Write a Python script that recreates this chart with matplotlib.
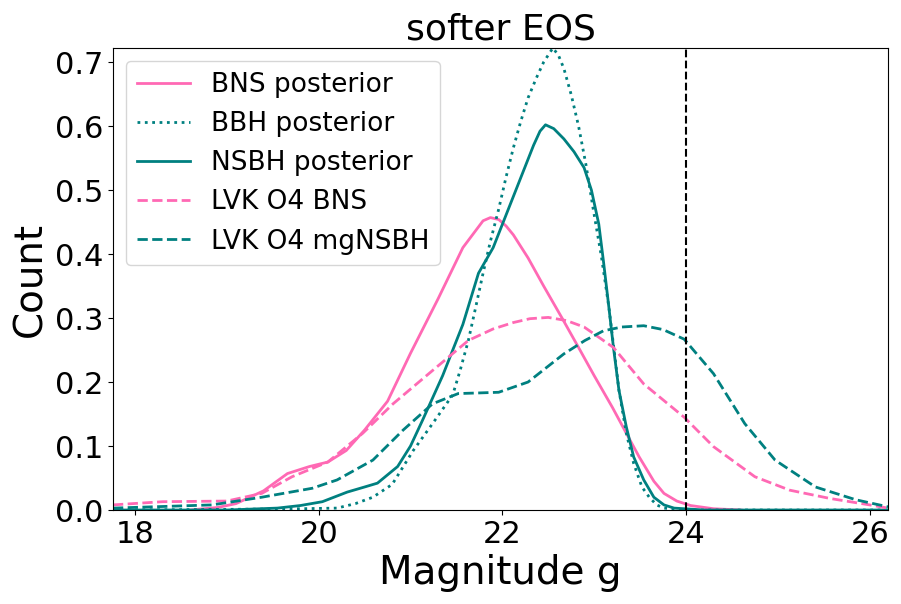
import matplotlib.pyplot as plt

bns_x = [18.6, 18.9, 19.1, 19.4, 19.66, 19.9, 20.1, 20.3, 20.5, 20.75, 21.0, 21.3, 21.57, 21.68, 21.79,
         21.87, 21.96, 22.04, 22.12, 22.28, 22.45, 22.65, 22.83, 23.0, 23.2, 23.35, 23.49, 23.65, 23.76,
         23.9, 24.05, 24.3, 24.6]
bns_y = [0.0, 0.004, 0.01, 0.03, 0.057, 0.068, 0.075, 0.093, 0.125, 0.17, 0.245, 0.33, 0.41, 0.431, 0.452,
         0.457, 0.454, 0.444, 0.43, 0.394, 0.35, 0.30, 0.254, 0.21, 0.16, 0.12, 0.083, 0.045, 0.026,
         0.014, 0.007, 0.002, 0.0]

bbh_x = [17.76, 19.0, 19.8, 20.2, 20.4, 20.59, 20.8, 21.03, 21.24, 21.46, 21.54, 21.63, 21.71, 21.79,
         21.87, 21.96, 22.04, 22.12, 22.2, 22.28, 22.37, 22.45, 22.55, 22.61, 22.67, 22.75, 22.83, 22.91,
         22.99, 23.08, 23.16, 23.27, 23.35, 23.43, 23.52, 23.6, 23.68, 23.76, 24.0, 26.2]
bbh_y = [0.0, 0.001, 0.002, 0.003, 0.01, 0.02, 0.04, 0.093, 0.135, 0.18, 0.218, 0.265, 0.317, 0.37,
         0.42, 0.47, 0.52, 0.566, 0.607, 0.644, 0.675, 0.70, 0.722, 0.711, 0.69, 0.649, 0.60, 0.54,
         0.47, 0.395, 0.317, 0.187, 0.12, 0.073, 0.036, 0.02, 0.008, 0.003, 0.0, 0.0]

nsbh_x = [17.76, 19.0, 19.55, 19.8, 20.04, 20.31, 20.5, 20.64, 20.86, 21.0, 21.13, 21.35, 21.57, 21.74,
          21.9, 22.12, 22.23, 22.34, 22.41, 22.47, 22.56, 22.67, 22.78, 22.89, 22.97, 23.05, 23.1,
          23.16, 23.21, 23.27, 23.35, 23.43, 23.54, 23.65, 23.76, 23.87, 24.2, 26.2]
nsbh_y = [0.0, 0.0, 0.003, 0.007, 0.013, 0.028, 0.036, 0.042, 0.068, 0.1, 0.14, 0.21, 0.29, 0.37,
          0.41, 0.49, 0.53, 0.57, 0.592, 0.602, 0.596, 0.58, 0.56, 0.535, 0.50, 0.447, 0.39,
          0.317, 0.254, 0.187, 0.13, 0.083, 0.047, 0.02, 0.008, 0.003, 0.0, 0.0]

lvk_bns_x = [17.76, 18.3, 19.0, 19.38, 19.71, 20.1, 20.48, 20.81, 21.24, 21.63, 21.9, 22.12, 22.3, 22.5,
             22.7, 22.89, 23.21, 23.54, 23.98, 24.3, 24.75, 25.13, 25.57, 26.0, 26.2]
lvk_bns_y = [0.008, 0.013, 0.014, 0.026, 0.052, 0.075, 0.12, 0.166, 0.218, 0.265, 0.283, 0.293, 0.299,
             0.301, 0.296, 0.286, 0.254, 0.197, 0.145, 0.099, 0.052, 0.031, 0.018, 0.008, 0.003]

lvk_nsbh_x = [17.76, 18.84, 19.38, 19.93, 20.2, 20.59, 20.92, 21.24, 21.52, 21.75, 21.96, 22.28, 22.67,
              22.9, 23.1, 23.3, 23.54, 23.75, 23.98, 24.3, 24.64, 24.97, 25.41, 25.85, 26.2]
lvk_nsbh_y = [0.003, 0.008, 0.02, 0.034, 0.047, 0.078, 0.125, 0.166, 0.182, 0.183, 0.184, 0.2, 0.244,
              0.265, 0.28, 0.286, 0.288, 0.282, 0.267, 0.213, 0.135, 0.078, 0.036, 0.016, 0.005]

pink = "#ff69b4"
teal = "#008080"

fig = plt.figure(figsize=(9.01, 6.04), dpi=100)
ax = fig.add_axes([0.1254, 0.1556, 0.8602, 0.7649])

ax.plot(bns_x, bns_y, color=pink, lw=2, label="BNS posterior")
ax.plot(bbh_x, bbh_y, color=teal, lw=2, ls=":", label="BBH posterior")
ax.plot(nsbh_x, nsbh_y, color=teal, lw=2, label="NSBH posterior")
ax.plot(lvk_bns_x, lvk_bns_y, color=pink, lw=2, ls="--", label="LVK O4 BNS")
ax.plot(lvk_nsbh_x, lvk_nsbh_y, color=teal, lw=2, ls="--", label="LVK O4 mgNSBH")
ax.axvline(24, color="black", ls="--", lw=1.5)

ax.set_xlim(17.76, 26.2)
ax.set_ylim(0, 0.722)
ax.set_xticks([18, 20, 22, 24, 26])
ax.set_yticks([0.0, 0.1, 0.2, 0.3, 0.4, 0.5, 0.6, 0.7])
ax.tick_params(labelsize=22)
ax.set_xlabel("Magnitude g", fontsize=28)
ax.set_ylabel("Count", fontsize=28)
ax.set_title("softer EOS", fontsize=26)
ax.legend(loc="upper left", fontsize=19)

plt.savefig("out.png", dpi=100)
